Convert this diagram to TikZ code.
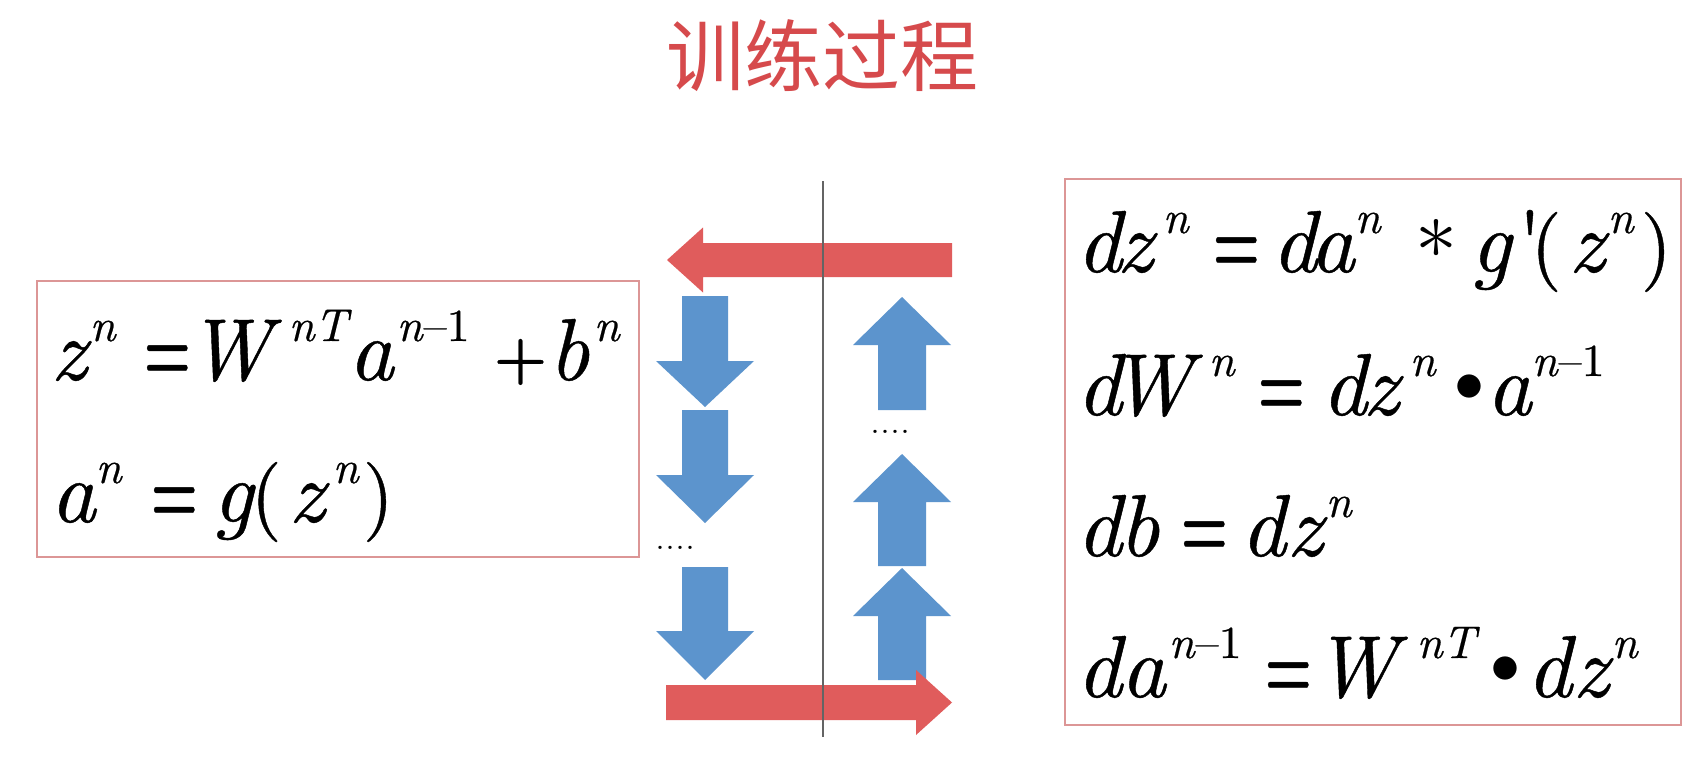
\RequirePackage{fix-cm}
\documentclass[tikz,border=0pt]{standalone}
\usepackage{graphicx}
\usepackage{fontspec}
\newfontfamily\cjk{Noto Sans CJK SC}
\newfontfamily\eqf{lmroman10-regular.otf}[ItalicFont=lmroman10-italic.otf, BoldFont=lmroman10-bold.otf, FakeBold=0.5]
\definecolor{arrred}{RGB}{224,92,92}
\definecolor{arrblue}{RGB}{92,148,205}
\definecolor{titred}{RGB}{214,74,76}
\definecolor{boxred}{RGB}{220,150,150}
\definecolor{lingray}{RGB}{100,100,100}
\newcommand\Gl[2]{\rlap{\hspace*{#1pt}#2}\ignorespaces}
\newcommand\Su[1]{\raisebox{39pt}{\fontsize{46}{46}\selectfont #1}}
\newcommand\Eqs{\scalebox{0.6}[1]{\upshape\bfseries =}}
\newcommand\Plus{\raisebox{3pt}{\fontsize{60}{60}\selectfont\upshape\bfseries +}}
\newcommand\Mn{\textup{–1}}
\newcommand\Ast{\raisebox{14pt}{\fontsize{84}{84}\selectfont$\ast$}}
\newcommand\Bul{\raisebox{14pt}{\fontsize{60}{60}\selectfont$\bullet$}}
\newcommand\Wb{\scalebox{0.95}[1]{W}}
\newcommand\ParL{{\fontsize{80}{80}\selectfont\upshape (}}
\newcommand\ParR{{\fontsize{80}{80}\selectfont\upshape )}}
% cx, top, head start, tip
\newcommand\DownArr[4]{\fill[arrblue] (#1-23,#2) -- (#1+23,#2) -- (#1+23,#3) -- (#1+49,#3) -- (#1,#4) -- (#1-49,#3) -- (#1-23,#3) -- cycle;}
% cx, bottom, head base, tip
\newcommand\UpArr[4]{\fill[arrblue] (#1-24,#2) -- (#1+24,#2) -- (#1+24,#3) -- (#1+49,#3) -- (#1,#4) -- (#1-49,#3) -- (#1-24,#3) -- cycle;}
\tikzset{
  eqline/.style={anchor=base west, inner sep=0pt, font=\eqf\fontsize{88}{100}\selectfont\itshape},
  eqbox/.style={draw=boxred, line width=2pt},
  dots/.style={anchor=base west, inner sep=0pt, font=\rmfamily\fontsize{40}{40}\selectfont}
}
\begin{document}
\begin{tikzpicture}[x=1pt,y=-1pt]
\useasboundingbox (0,0) rectangle (1705,757);
\fill[white] (0,0) rectangle (1705,757);

% title
\node[anchor=base, inner sep=0pt, font=\cjk\fontsize{78}{90}\selectfont, text=titred] (title) at (822,86) {训练过程};

% boxes
\draw[eqbox] (37,281) rectangle (639,557);
\draw[eqbox] (1065,179) rectangle (1681,725);

% left formulas
\node[eqline] (l1) at (50,380) {\Gl{0}{z}\Gl{39}{\Su{n}}\Gl{93}{\Eqs}\Gl{137}{\Wb}\Gl{238}{\Su{nT}}\Gl{298}{a}\Gl{346}{\Su{n\Mn}}\Gl{443}{\Plus}\Gl{498}{b}\Gl{543}{\Su{n}}};
\node[eqline] (l2) at (50,522) {\Gl{0}{a}\Gl{45}{\Su{n}}\Gl{100}{\Eqs}\Gl{162}{g}\Gl{200}{\ParL}\Gl{238}{z}\Gl{282}{\Su{n}}\Gl{312}{\ParR}};

% right formulas
\node[eqline] (r1) at (1076,272) {\Gl{0}{d}\Gl{40}{z}\Gl{86}{\Su{n}}\Gl{136}{\Eqs}\Gl{195}{d}\Gl{233}{a}\Gl{278}{\Su{n}}\Gl{339}{\Ast}\Gl{394}{g}\Gl{441}{\textup{\textquotesingle}}\Gl{454}{\ParL}\Gl{492}{z}\Gl{531}{\Su{n}}\Gl{564}{\ParR}};
\node[eqline] (r2) at (1076,415) {\Gl{0}{d}\Gl{32}{\Wb}\Gl{132}{\Su{n}}\Gl{181}{\Eqs}\Gl{245}{d}\Gl{286}{z}\Gl{333}{\Su{n}}\Gl{378}{\Bul}\Gl{410}{a}\Gl{455}{\Su{n\Mn}}};
\node[eqline] (r3) at (1076,556) {\Gl{0}{d}\Gl{42}{b}\Gl{104}{\Eqs}\Gl{164}{d}\Gl{210}{z}\Gl{249}{\Su{n}}};
\node[eqline] (r4) at (1076,697) {\Gl{0}{d}\Gl{44}{a}\Gl{92}{\Su{n\Mn}}\Gl{188}{\Eqs}\Gl{237}{\Wb}\Gl{340}{\Su{nT}}\Gl{414}{\Bul}\Gl{450}{d}\Gl{496}{z}\Gl{535}{\Su{n}}};

% blue arrows, left column (downwards)
\DownArr{705}{296}{361}{407}
\DownArr{705}{410}{475}{523}
\DownArr{705}{567}{631}{680}
\node[dots] (dotsL) at (655,549) {....};

% blue arrows, right column (upwards)
\UpArr{902}{410}{345}{297}
\UpArr{902}{566}{502}{454}
\UpArr{902}{680}{616}{568}
\node[dots] (dotsR) at (870,433) {....};

% red arrows
\fill[arrred] (952,243) -- (703,243) -- (703,227.5) -- (667,260) -- (703,292.5) -- (703,277) -- (952,277) -- cycle;
\fill[arrred] (666,685) -- (916,685) -- (916,670) -- (952,702.5) -- (916,735) -- (916,720) -- (666,720) -- cycle;

% divider
\draw[lingray, line width=2pt] (823,181) -- (823,737);
\end{tikzpicture}
\end{document}
